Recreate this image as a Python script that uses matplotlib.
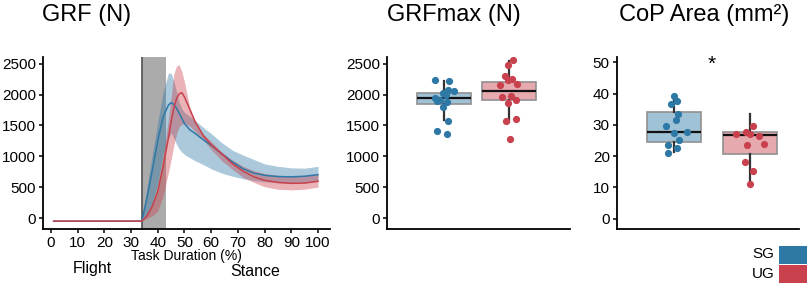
import matplotlib
matplotlib.use("Agg")
import matplotlib.pyplot as plt
from matplotlib.patches import Rectangle

plt.rcParams['font.family'] = ['Liberation Sans', 'DejaVu Sans']

BLUE = "#2E78A6"
RED = "#C8414C"

# --- GRF time series (mean and band edges), % of task duration ---
task_pct = [1, 34, 36, 38, 40, 42, 44, 45, 46, 47, 48, 49, 50, 52, 54, 57,
            60, 64, 68, 72, 76, 80, 85, 90, 95, 100]
sg_mean = [-45, -45, 340, 790, 1260, 1640, 1830, 1870, 1840, 1780, 1700, 1615,
           1530, 1430, 1370, 1270, 1180, 1040, 910, 800, 730, 695, 675, 670, 680, 705]
sg_upper = [-45, -45, 520, 1050, 1560, 2040, 2350, 2340, 2220, 2050, 1870, 1770,
            1710, 1650, 1580, 1470, 1370, 1220, 1100, 1020, 950, 880, 840, 815, 810, 840]
sg_lower = [-45, -45, 60, 250, 560, 1040, 1300, 1380, 1300, 1200, 1120, 1070,
            1030, 980, 930, 870, 800, 730, 680, 640, 610, 590, 575, 570, 575, 595]
ug_mean = [-45, -45, 40, 200, 440, 840, 1300, 1560, 1780, 1930, 2010, 2030,
           1960, 1760, 1560, 1340, 1190, 1040, 880, 760, 670, 615, 580, 565, 570, 600]
ug_upper = [-45, -45, 80, 230, 500, 1000, 1600, 1950, 2330, 2460, 2480, 2370,
            2200, 1790, 1560, 1360, 1240, 1070, 940, 840, 770, 725, 695, 688, 695, 725]
ug_lower = [-45, -45, 0, 40, 120, 360, 740, 950, 1180, 1360, 1480, 1520,
            1535, 1490, 1400, 1270, 1110, 930, 790, 660, 580, 510, 470, 460, 470, 505]
contact_window = (34, 43)

# --- GRFmax (N) ---
grf_sg = [2231, 2220, 2069, 2064, 2026, 2000, 1951, 1919, 1900, 1881, 1800, 1580, 1408, 1355]
grf_sg_jit = [-0.14, 0.085, 0.07, 0.16, -0.02, 0.03, -0.135, -0.06, -0.10, 0.045, -0.01, 0.07, -0.11, 0.045]
grf_ug = [2553, 2477, 2300, 2247, 2231, 2171, 2150, 1978, 1961, 1919, 1865, 1608, 1569, 1279]
grf_ug_jit = [0.06, -0.02, -0.06, 0.055, -0.02, 0.12, -0.135, 0.03, -0.11, 0.115, -0.01, 0.105, -0.045, 0.02]
grf_box_sg = dict(whislo=1585, q1=1843, med=1945, q3=2026, whishi=2225)
grf_box_ug = dict(whislo=1559, q1=1919, med=2064, q3=2198, whishi=2537)

# --- CoP area (mm^2) ---
cop_sg = [39.1, 37.5, 36.7, 33.5, 31.5, 29.6, 27.5, 27.7, 25.3, 23.6, 22.6, 21.1]
cop_sg_jit = [0.01, 0.04, -0.04, 0.06, 0.03, -0.10, 0.0, 0.18, 0.07, -0.075, 0.05, -0.07]
cop_ug = [29.7, 27.1, 27.7, 27.0, 26.5, 23.5, 23.8, 18.1, 15.1, 11.0]
cop_ug_jit = [0.04, -0.18, -0.05, 0.0, 0.12, -0.04, 0.19, -0.06, 0.045, 0.0]
cop_box_sg = dict(whislo=21.2, q1=24.4, med=27.7, q3=34.0, whishi=39.1)
cop_box_ug = dict(whislo=11.0, q1=20.7, med=26.6, q3=27.6, whishi=33.5)

groups = ["SG", "UG"]

fig = plt.figure(figsize=(8.09, 2.84), dpi=100)
ax1 = fig.add_axes([0.0528, 0.1937, 0.3551, 0.6056])
ax2 = fig.add_axes([0.4787, 0.1937, 0.2264, 0.6056])
ax3 = fig.add_axes([0.7623, 0.1937, 0.2257, 0.6056])


def style(ax):
    for s in ("top", "right"):
        ax.spines[s].set_visible(False)
    for s in ("left", "bottom"):
        ax.spines[s].set_linewidth(1.3)
    ax.tick_params(labelsize=11, length=3, width=1.1, pad=2)


# panel 1
style(ax1)
ax1.axvspan(*contact_window, color="#ababab", zorder=0, lw=0)
ax1.axvline(contact_window[0], color="#505050", lw=1.2, zorder=0.5)
ax1.fill_between(task_pct, sg_lower, sg_upper, color=BLUE, alpha=0.4, lw=0, zorder=1)
ax1.fill_between(task_pct, ug_lower, ug_upper, color=RED, alpha=0.4, lw=0, zorder=1)
ax1.plot(task_pct, sg_mean, color=BLUE, lw=1.1, zorder=2)
ax1.plot(task_pct, ug_mean, color=RED, lw=1.1, zorder=2)
ax1.set_xlim(-3.1, 104.5)
ax1.set_ylim(-172, 2606)
ax1.set_xticks(range(0, 101, 10))
ax1.set_yticks(range(0, 2501, 500))
ax1.set_xlabel("Task Duration (%)", fontsize=10, labelpad=-1)
fig.text(92 / 809, 1 - 268 / 284, "Flight", fontsize=11.5, ha="center", va="center")
fig.text(255 / 809, 1 - 272 / 284, "Stance", fontsize=11.5, ha="center", va="center")


def boxpanel(ax, vals_sg, jit_sg, vals_ug, jit_ug, box_sg, box_ug, width):
    style(ax)
    stats = [dict(box_sg, fliers=[]), dict(box_ug, fliers=[])]
    bp = ax.bxp(stats, positions=[1, 2], widths=width, patch_artist=True,
                showcaps=False, showfliers=False, zorder=2,
                whiskerprops=dict(color="#333333", lw=1.6),
                medianprops=dict(color="#111111", lw=1.6),
                boxprops=dict(lw=1.2))
    for patch, c in zip(bp["boxes"], [BLUE, RED]):
        patch.set_facecolor(matplotlib.colors.to_rgba(c, 0.45))
        patch.set_edgecolor("#909090")
    ax.scatter([1 + j for j in jit_sg], vals_sg, s=27, color=BLUE, zorder=3, lw=0)
    ax.scatter([2 + j for j in jit_ug], vals_ug, s=27, color=RED, zorder=3, lw=0)
    ax.set_xticks([])


boxpanel(ax2, grf_sg, grf_sg_jit, grf_ug, grf_ug_jit, grf_box_sg, grf_box_ug, 0.83)
ax2.set_xlim(0.131, 2.946)
ax2.set_ylim(-172, 2606)
ax2.set_yticks(range(0, 2501, 500))

boxpanel(ax3, cop_sg, cop_sg_jit, cop_ug, cop_ug_jit, cop_box_sg, cop_box_ug, 0.71)
ax3.set_xlim(0.25, 2.653)
ax3.set_ylim(-3.3, 51.7)
ax3.set_yticks(range(0, 51, 10))
ax3.text(1.5, 49.5, "*", fontsize=15, ha="center", va="center")

fig.text(42 / 809, 1 - 15 / 284, "GRF (N)", fontsize=17, ha="left", va="center")
fig.text(454 / 809, 1 - 15 / 284, "GRFmax (N)", fontsize=17, ha="center", va="center")
fig.text(704 / 809, 1 - 15 / 284, "CoP Area (mm²)", fontsize=17, ha="center", va="center")

# legend keys in the bottom-right corner
key_tops = [245.7, 265.0]
for name, c, top in zip(groups, [BLUE, RED], key_tops):
    fig.add_artist(Rectangle((779.3 / 809, 1 - (top + 18) / 284), 27.4 / 809, 18 / 284,
                             transform=fig.transFigure, facecolor=c, edgecolor="none"))
    fig.text(774.5 / 809, 1 - (top + 8.5) / 284, name, fontsize=11, ha="right", va="center")

fig.savefig("out.png", dpi=100)
